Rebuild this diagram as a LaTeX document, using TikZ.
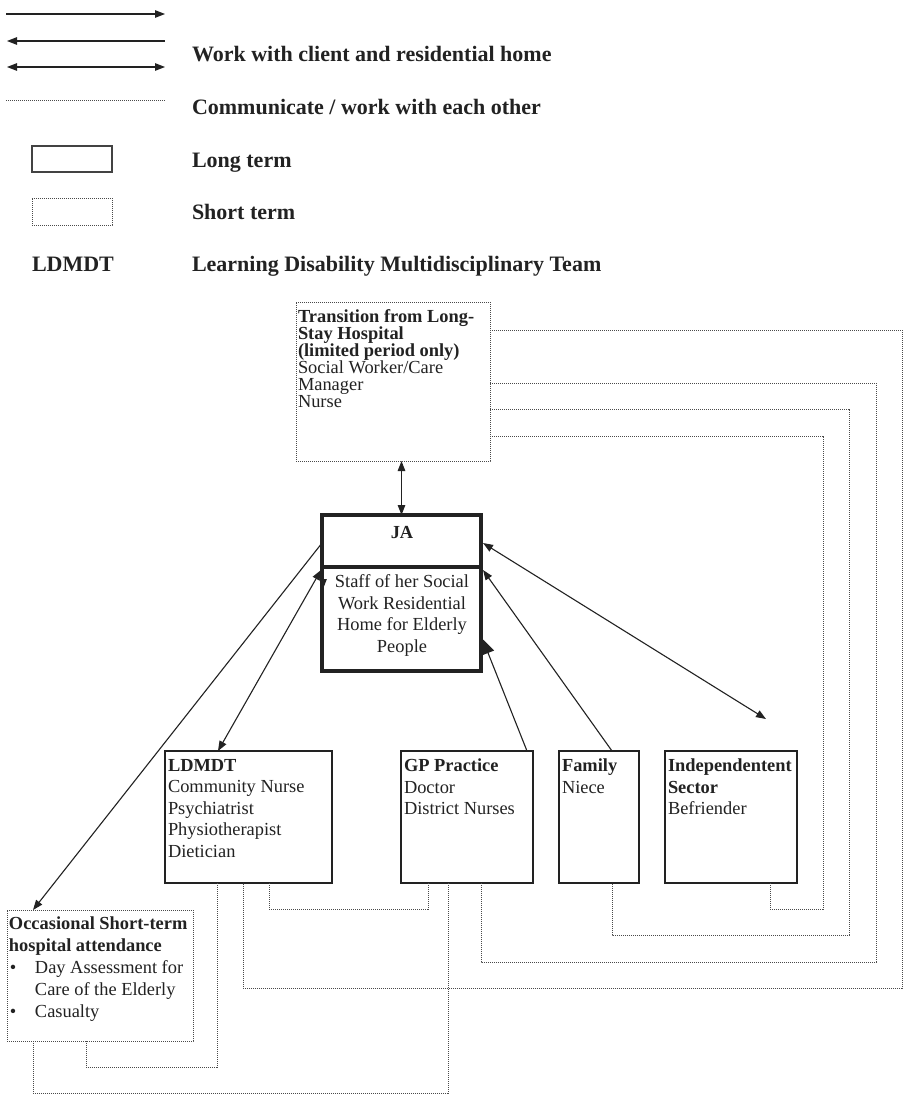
\documentclass[tikz,border=0pt]{standalone}
\usepackage{fontspec}
\setmainfont{Liberation Serif}
\usetikzlibrary{arrows.meta,calc}
\definecolor{ink}{HTML}{222222}
\definecolor{dotc}{HTML}{4A4A4A}
\begin{document}
\begin{tikzpicture}[x=1pt,y=-1pt,
  every node/.style={inner sep=0pt, outer sep=0pt},
  >={Triangle[length=10pt,width=7.5pt]},
  txt/.style={font=\fontsize{18.4}{21.5}\selectfont, text=ink, align=left},
  lgd/.style={font=\fontsize{22}{26}\selectfont\bfseries, text=ink},
  solidbox/.style={draw=ink, line width=1.7pt},
  thickbox/.style={draw=ink, line width=3.8pt},
  legbox/.style={draw=ink!85, line width=2.3pt},
  dotbox/.style={draw=dotc, line width=1pt, dash pattern=on 1.2pt off 0.8pt},
  conn/.style={draw=ink, line width=1.1pt},
  dotline/.style={draw=dotc, line width=1pt, dash pattern=on 1.2pt off 0.8pt}
]
\fill[white] (0,0) rectangle (904,1100);
\useasboundingbox (0,0) rectangle (904,1100);

% ---------- legend ----------
\coordinate (a1s) at (6,14);   \coordinate (a1e) at (165,14);
\coordinate (a2s) at (7,41);   \coordinate (a2e) at (165,41);
\coordinate (a3s) at (7,67);   \coordinate (a3e) at (165,67);
\coordinate (d1s) at (6,100);  \coordinate (d1e) at (165,100);
\draw[conn,->] (a1s) -- (a1e);
\draw[conn,<-] (a2s) -- (a2e);
\draw[conn,<->] (a3s) -- (a3e);
\draw[dotline] (d1s) -- (d1e);

\node[lgd, anchor=base west] (t1) at (192,61) {Work with client and residential home};
\node[lgd, anchor=base west] (t2) at (192,114) {Communicate / work with each other};
\node[legbox, minimum width=80pt, minimum height=26pt, anchor=north west] (lb) at (32,146) {};
\node[lgd, anchor=base west] (t3) at (192,167) {Long term};
\node[dotbox, minimum width=80pt, minimum height=27pt, anchor=north west] (sb) at (32,198) {};
\node[lgd, anchor=base west] (t4) at (192,219) {Short term};
\node[lgd, anchor=base west] (t5) at (32,271) {LDMDT};
\node[lgd, anchor=base west] (t6) at (192,271) {Learning Disability Multidisciplinary Team};

% ---------- boxes ----------
\node[dotbox, minimum width=194pt, minimum height=159pt, anchor=north west] (trans) at (296,302) {};
\node[txt, font=\fontsize{18.4}{17}\selectfont, anchor=north west] (transT) at (298,310)
  {\textbf{Transition from Long-}\\\textbf{Stay Hospital}\\\textbf{(limited period only)}\\Social Worker/Care\\Manager\\Nurse};

\node[thickbox, minimum width=159pt, minimum height=52pt, anchor=north west] (ja) at (322,515) {};
\node[thickbox, minimum width=159pt, minimum height=104pt, anchor=north west] (staff) at (322,567) {};
\node[txt, anchor=north] (jaT) at (402,526) {\textbf{JA}};
\node[txt, align=center, anchor=north] (staffT) at (402,575)
  {Staff of her Social\\Work Residential\\Home for Elderly\\People};

\node[solidbox, minimum width=167pt, minimum height=132pt, anchor=north west] (ldmdt) at (165,751) {};
\node[txt, anchor=north west] (ldmdtT) at (168,759)
  {\textbf{LDMDT}\\Community Nurse\\Psychiatrist\\Physiotherapist\\Dietician};

\node[solidbox, minimum width=132pt, minimum height=132pt, anchor=north west] (gp) at (401,751) {};
\node[txt, anchor=north west] (gpT) at (404,759) {\textbf{GP Practice}\\Doctor\\District Nurses};

\node[solidbox, minimum width=80pt, minimum height=132pt, anchor=north west] (family) at (559,751) {};
\node[txt, anchor=north west] (familyT) at (562,759) {\textbf{Family}\\Niece};

\node[solidbox, minimum width=132pt, minimum height=132pt, anchor=north west] (indep) at (665,751) {};
\node[txt, anchor=north west] (indepT) at (668,759) {\textbf{Independentent}\\\textbf{Sector}\\Befriender};

\node[dotbox, minimum width=186pt, minimum height=131pt, anchor=north west] (occ) at (7,910) {};
\node[txt, font=\fontsize{18.4}{22}\selectfont, anchor=north west] (occT) at (9,917)
  {\textbf{Occasional Short-term}\\\textbf{hospital attendance}\\
   \makebox[26pt][l]{\hspace*{1pt}\textbullet}Day Assessment for\\
   \hspace*{26pt}Care of the Elderly\\
   \makebox[26pt][l]{\hspace*{1pt}\textbullet}Casualty};

% ---------- solid connectors ----------
\draw[conn,<->] (ja.north |- trans.south) -- (ja.north);
\draw[conn,->] ($(ja.west)+(0,2)$) -- ($(occ.north west)+(26,0)$);
\draw[conn,<->] ($(staff.north west)+(-1,3)$) -- ($(ldmdt.north west)+(53,0)$);
\draw[conn,->] ($(staff.north west)+(1,6)$) -- ($(staff.north west)+(1,22)$);
\draw[conn,-{Triangle[length=15pt,width=13pt]}] ($(gp.north east)+(-6,0)$) -- ($(staff.east)+(1.5,20)$);
\draw[conn,->] ($(family.north west)+(53,0)$) -- ($(staff.north east)+(2,3)$);
\draw[conn,<->] ($(ja.east)+(2,2)$) -- ($(indep.north west)+(101,-32)$);

% ---------- dotted connectors ----------
\draw[dotline] ($(trans.north east)+(0,28)$) -- ++(412,0) -- ++(0,658) -| ($(ldmdt.south west)+(78,0)$);
\draw[dotline] ($(trans.north east)+(0,81)$) -- ++(386,0) -- ++(0,579) -| ($(gp.south west)+(80,0)$);
\draw[dotline] ($(trans.north east)+(0,107)$) -- ++(359,0) -- ++(0,526) -| ($(family.south west)+(53,0)$);
\draw[dotline] ($(trans.north east)+(0,134)$) -- ++(333,0) -- ++(0,473) -| ($(indep.south west)+(105,0)$);
\draw[dotline] ($(ldmdt.south west)+(104,0)$) -- ++(0,26) -| ($(gp.south west)+(27,0)$);
\draw[dotline] ($(ldmdt.south west)+(52,0)$) -- ++(0,184) -| ($(occ.south west)+(79,0)$);
\draw[dotline] ($(gp.south west)+(47,0)$) -- ++(0,210) -| ($(occ.south west)+(26,0)$);
\end{tikzpicture}
\end{document}
